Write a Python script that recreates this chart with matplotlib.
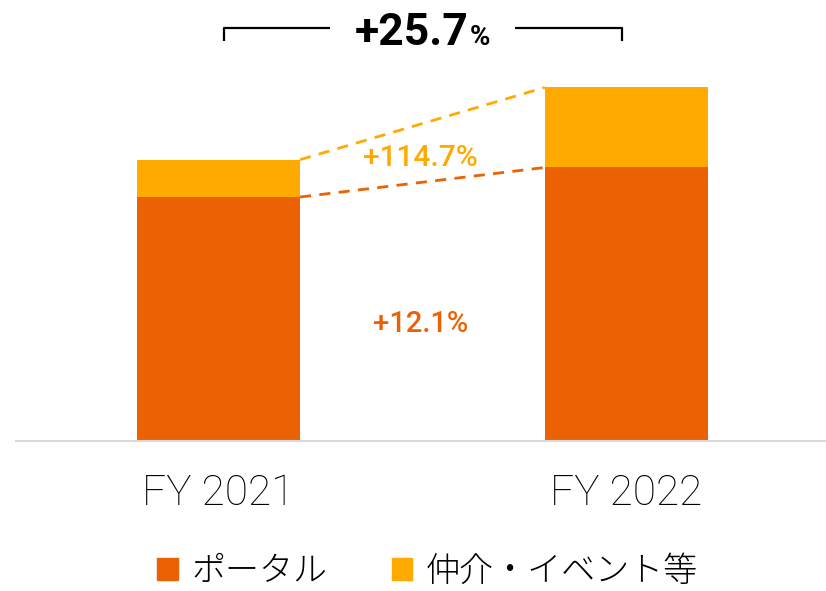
import matplotlib
matplotlib.use("Agg")
import matplotlib.pyplot as plt
from matplotlib.patches import Patch

categories = ["FY 2021", "FY 2022"]
portal = [100.0, 112.1]
agency = [15.3, 32.8]
series_names = ["ポータル", "仲介・イベント等"]
growth_total = "+25.7"
growth_agency = "+114.7%"
growth_portal = "+12.1%"

c_portal = "#EC6104"
c_agency = "#FFAA00"

plt.rcParams['font.family'] = ['Roboto', 'Noto Sans CJK JP', 'DejaVu Sans']

fig = plt.figure(figsize=(8.26, 5.91), dpi=100)
ax = fig.add_axes([16/826, 150/591, 1 - 16/826, 441/591])

x = [0, 1]
w = 0.4
ax.bar(x, portal, width=w, color=c_portal, zorder=2)
ax.bar(x, agency, width=w, bottom=portal, color=c_agency, zorder=2)

tot = [p + a for p, a in zip(portal, agency)]
ax.plot([x[0] + w/2, x[1] - w/2], [tot[0], tot[1]], color=c_agency, lw=2,
        dashes=(4, 3))
ax.plot([x[0] + w/2, x[1] - w/2], [portal[0], portal[1]], color=c_portal, lw=2,
        dashes=(4, 3))

ax.text(0.495, 116, growth_agency, color=c_agency, fontsize=21.5, fontweight='medium',
        ha='center', va='center', family=['Roboto', 'DejaVu Sans'])
ax.text(0.495, 48, growth_portal, color=c_portal, fontsize=21, fontweight='medium',
        ha='center', va='center', family=['Roboto', 'DejaVu Sans'])

# bracket
yb, yt = 164.0, 169.3
kw = dict(color='black', lw=1.6, clip_on=False, solid_capstyle='butt')
ax.plot([0.0135, 0.0135, 0.273], [yb, yt, yt], **kw)
ax.plot([0.727, 0.99, 0.99], [yt, yt, yb], **kw)
ax.text(0.612, 162.3, growth_total, color='black', fontsize=32, fontweight='bold',
        ha='right', va='baseline', family=['Roboto', 'DejaVu Sans'])
ax.text(0.617, 162.3, "%", color='black', fontsize=20, fontweight='bold',
        ha='left', va='baseline', family=['Roboto', 'DejaVu Sans'])

ax.set_xlim(-0.496, 1.489)
ax.set_ylim(0, 441/2.44)
ax.set_xticks(x)
ax.set_xticklabels(categories, fontsize=30.5, fontweight='light',
                   family=['Roboto', 'Noto Sans CJK JP'])
ax.tick_params(axis='x', length=0, pad=23)
ax.set_yticks([])
for s in ['top', 'left', 'right']:
    ax.spines[s].set_visible(False)
ax.spines['bottom'].set_color('#D9D9D9')
ax.spines['bottom'].set_linewidth(1.5)

handles = [Patch(color=c_portal), Patch(color=c_agency)]
fig.legend(handles, series_names, loc='center', bbox_to_anchor=(0.5176, 0.034),
           ncol=2, frameon=False, handlelength=0.6, handleheight=0.6,
           handletextpad=0.4, columnspacing=1.9, borderpad=0.1,
           prop={'family': ['Noto Sans CJK JP', 'DejaVu Sans'], 'size': 24.5,
                 'weight': 'light'})

fig.savefig("out.png", dpi=100)
